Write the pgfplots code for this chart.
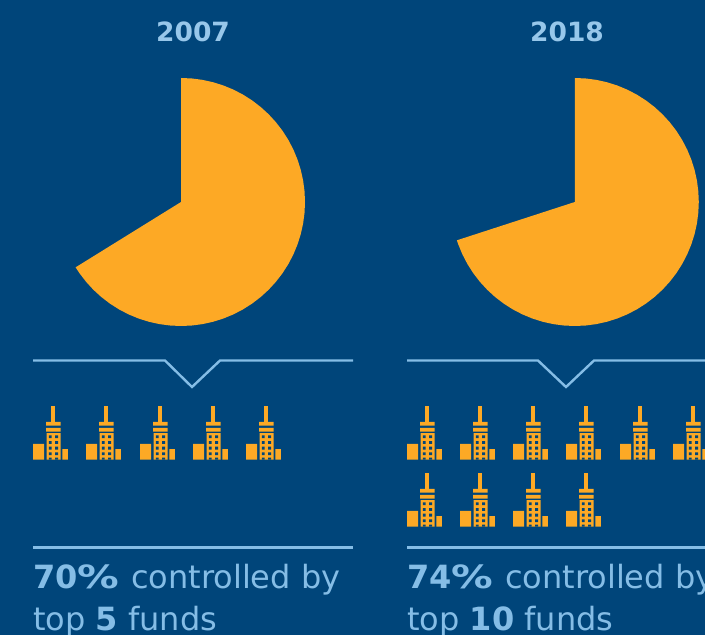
\documentclass[border=0pt]{standalone}
\usepackage{pgfplots}
\pgfplotsset{compat=1.18}
\usepackage{fontspec}
\setmainfont{DejaVu Sans}
\definecolor{navy}{HTML}{00457A}
\definecolor{amber}{HTML}{FDA925}
\definecolor{sky}{HTML}{85BDE6}
\newcommand{\pct}{\scalebox{1.3}[1]{\%}}

% Building pictogram: one mark per fund, origin at its lower left corner
\pgfdeclareplotmark{fund}{%
  \pgfsetfillcolor{amber}%
  \pgfpathrectangle{\pgfqpoint{0pt}{0pt}}{\pgfqpoint{11pt}{15.7pt}}%
  \pgfpathrectangle{\pgfqpoint{29.3pt}{0pt}}{\pgfqpoint{5.6pt}{10.5pt}}%
  \pgfpathrectangle{\pgfqpoint{18.2pt}{37.5pt}}{\pgfqpoint{3.6pt}{16pt}}%
  \pgfpathrectangle{\pgfqpoint{13pt}{34pt}}{\pgfqpoint{14.7pt}{3.6pt}}%
  \pgfpathrectangle{\pgfqpoint{13pt}{28pt}}{\pgfqpoint{14.7pt}{3.6pt}}%
  \pgfpathrectangle{\pgfqpoint{13.7pt}{0pt}}{\pgfqpoint{14pt}{26.4pt}}%
  \pgfusepathqfill
  \pgfsetfillcolor{navy}%
  \foreach \wy in {21.4,15.7,10,4.4}{%
    \pgfpathrectangle{\pgfqpoint{15.8pt}{\wy pt}}{\pgfqpoint{2.8pt}{2.8pt}}%
    \pgfpathrectangle{\pgfqpoint{22.2pt}{\wy pt}}{\pgfqpoint{2.8pt}{2.8pt}}%
  }%
  \pgfpathrectangle{\pgfqpoint{15.8pt}{0pt}}{\pgfqpoint{2.8pt}{1.9pt}}%
  \pgfpathrectangle{\pgfqpoint{22.2pt}{0pt}}{\pgfqpoint{2.8pt}{1.9pt}}%
  \pgfusepathqfill
}

\pgfplotsset{
  canvas/.style={
    anchor=south west, at={(0pt,0pt)}, hide axis, scale only axis,
    width=705pt, height=635pt,
    xmin=0, xmax=705, ymin=0, ymax=635, y dir=reverse,
    clip=false
  },
  wedge/.style={
    anchor=center, hide axis, scale only axis, clip=false,
    width=248pt, height=248pt,
    xmin=-124, xmax=124, ymin=-124, ymax=124
  }
}
\tikzset{
  caption/.style={text=sky, font=\fontsize{32}{38}\selectfont, anchor=base west, inner sep=0pt},
  heading/.style={text=sky!85!white, font=\fontsize{26.5}{30}\selectfont\bfseries, anchor=base}
}

\begin{document}
\begin{tikzpicture}[x=1pt,y=1pt]
\path[use as bounding box] (0,0) rectangle (705,635);
\clip (0,0) rectangle (705,635);
\fill[navy] (0,0) rectangle (705,635);

% Share of the market held by the largest funds, angle/radius outline
\begin{axis}[wedge, at={(181pt,433pt)}]
\addplot[fill=amber, draw=none, data cs=polar] coordinates {
 (0,0) (90,124) (85,124) (80,124) (75,124) (70,124) (65,124) (60,124) (55,124)
 (50,124) (45,124) (40,124) (35,124) (30,124) (25,124) (20,124) (15,124) (10,124)
 (5,124) (0,124) (-5,124) (-10,124) (-15,124) (-20,124) (-25,124) (-30,124)
 (-35,124) (-40,124) (-45,124) (-50,124) (-55,124) (-60,124) (-65,124) (-70,124)
 (-75,124) (-80,124) (-85,124) (-90,124) (-95,124) (-100,124) (-105,124) (-110,124)
 (-115,124) (-120,124) (-125,124) (-130,124) (-135,124) (-140,124) (-145,124)
 (-148.2,124) (0,0)
} -- cycle;
\end{axis}
\begin{axis}[wedge, at={(574.8pt,433pt)}]
\addplot[fill=amber, draw=none, data cs=polar] coordinates {
 (0,0) (90,124) (85,124) (80,124) (75,124) (70,124) (65,124) (60,124) (55,124)
 (50,124) (45,124) (40,124) (35,124) (30,124) (25,124) (20,124) (15,124) (10,124)
 (5,124) (0,124) (-5,124) (-10,124) (-15,124) (-20,124) (-25,124) (-30,124)
 (-35,124) (-40,124) (-45,124) (-50,124) (-55,124) (-60,124) (-65,124) (-70,124)
 (-75,124) (-80,124) (-85,124) (-90,124) (-95,124) (-100,124) (-105,124) (-110,124)
 (-115,124) (-120,124) (-125,124) (-130,124) (-135,124) (-140,124) (-145,124)
 (-150,124) (-155,124) (-160,124) (-162,124) (0,0)
} -- cycle;
\end{axis}

\begin{axis}[canvas]
% Brackets and rules
\addplot[sky, line width=2.4pt] coordinates {(33,360.5) (165,360.5) (192,387) (220,360.5) (353,360.5)};
\addplot[sky, line width=2.4pt] coordinates {(407,360.5) (538,360.5) (566,387) (594,360.5) (727,360.5)};
\addplot[sky, line width=2.4pt] coordinates {(33,547.5) (353,547.5)};
\addplot[sky, line width=2.4pt] coordinates {(407,547.5) (727,547.5)};

% Funds
\addplot[only marks, mark=fund] coordinates {(33,459.5) (86,459.5) (140,459.5) (193,459.5) (246,459.5)};
\addplot[only marks, mark=fund] coordinates {(407,459.5) (460,459.5) (513,459.5) (566,459.5) (620,459.5) (673,459.5)
  (407,526.5) (460,526.5) (513,526.5) (566,526.5)};

% Headings and captions
\node[heading] at (axis cs:193,41) {2007};
\node[heading] at (axis cs:567,41) {2018};
\node[caption] at (axis cs:33,588) {\textbf{70\pct}\hspace{1.5pt} controlled by};
\node[caption] at (axis cs:33,630) {top \textbf{5} funds};
\node[caption] at (axis cs:407,588) {\textbf{74\pct}\hspace{1.5pt} controlled by};
\node[caption] at (axis cs:407,630) {top \textbf{10} funds};
\end{axis}
\end{tikzpicture}
\end{document}
